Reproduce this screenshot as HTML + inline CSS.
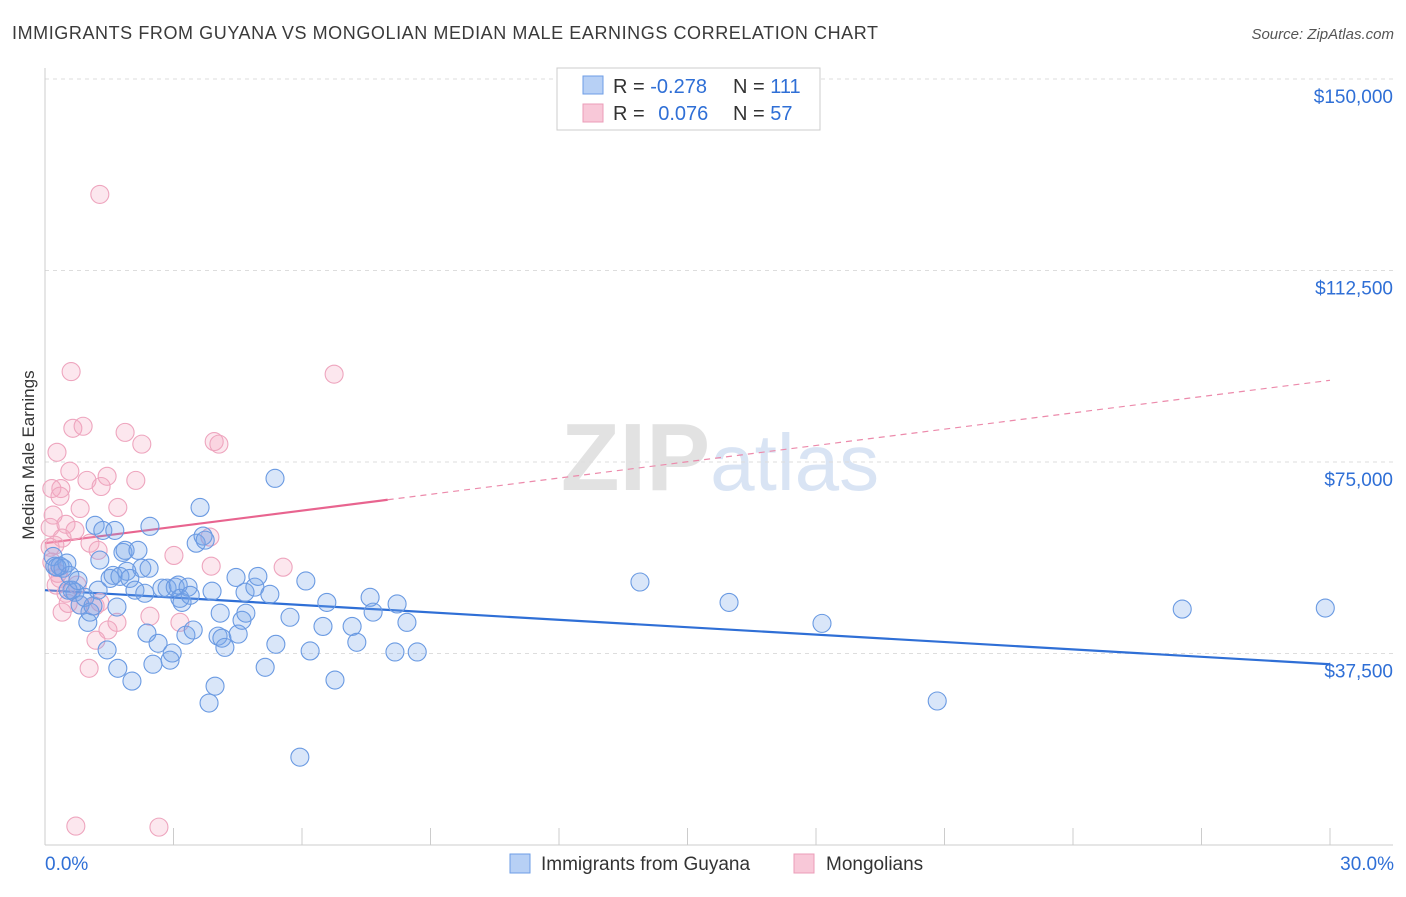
<!DOCTYPE html>
<html><head><meta charset="utf-8">
<style>
body{margin:0;background:#fff;font-family:"Liberation Sans",sans-serif;}
svg text{font-family:"Liberation Sans",sans-serif;}
</style></head>
<body>
<svg id="chart" width="1406" height="892" xmlns="http://www.w3.org/2000/svg">
<text x="12" y="39" font-size="18" fill="#3a3a3a" textLength="866" lengthAdjust="spacing">IMMIGRANTS FROM GUYANA VS MONGOLIAN MEDIAN MALE EARNINGS CORRELATION CHART</text>
<text x="1394" y="39" font-size="15" fill="#555" font-style="italic" text-anchor="end">Source: ZipAtlas.com</text>
<text x="720" y="490" font-size="96" fill="#e6e6e6" text-anchor="middle" font-family="Liberation Serif"><tspan font-weight="bold" fill="#e2e2e2">ZIP</tspan><tspan fill="#d9e4f4" font-family="Liberation Sans" font-size="80">atlas</tspan></text>
<g id="grid"></g>
<g id="axes"></g>
<g id="trends"></g>
<g id="pts"></g>
<text transform="translate(34,455) rotate(-90)" font-size="17" fill="#333" text-anchor="middle">Median Male Earnings</text>
<g>
<rect x="557" y="68" width="263" height="62" fill="#fff" stroke="#ccc"/>
<rect x="583" y="76" width="20" height="18" fill="#b7d0f5" stroke="#6e9de6"/>
<rect x="583" y="104" width="20" height="18" fill="#f8c8d8" stroke="#eb9db8"/>
<text x="613" y="93" font-size="20" fill="#333">R = <tspan fill="#2f6fd6">-0.278</tspan></text>
<text x="733" y="93" font-size="20" fill="#333">N = <tspan fill="#2f6fd6">111</tspan></text>
<text x="613" y="120" font-size="20" fill="#333">R = <tspan fill="#2f6fd6" dx="8">0.076</tspan></text>
<text x="733" y="120" font-size="20" fill="#333">N = <tspan fill="#2f6fd6">57</tspan></text>
</g>
<g>
<rect x="510" y="854" width="20" height="19" fill="#b7d0f5" stroke="#6e9de6"/>
<text x="541" y="870" font-size="19" fill="#333">Immigrants from Guyana</text>
<rect x="794" y="854" width="20" height="19" fill="#f8c8d8" stroke="#eb9db8"/>
<text x="826" y="870" font-size="19" fill="#333">Mongolians</text>
</g>
<text x="45" y="870" font-size="19" fill="#2f6fd6">0.0%</text>
<text x="1394" y="870" font-size="19" fill="#2f6fd6" text-anchor="end">30.0%</text>
</svg>
<script>
const yTicks=[150000,112500,75000,37500];
const yTickLabels=["$150,000","$112,500","$75,000","$37,500"];
const xTicks=[0,3,6,9,12,15,18,21,24,27,30];
const guyanaX=[0.19,0.23,0.35,0.42,0.51,0.58,0.28,0.63,0.70,0.54,0.77,0.82,0.93,1.00,1.05,1.12,1.17,1.24,1.28,1.35,1.45,1.52,1.59,1.63,1.68,1.70,1.75,1.82,1.87,1.91,1.98,2.03,2.10,2.17,2.26,2.33,2.38,2.43,2.45,2.52,2.64,2.73,2.85,2.92,2.97,3.04,3.11,3.15,3.20,3.29,3.34,3.39,3.46,3.53,3.62,3.69,3.74,3.83,3.90,3.97,4.04,4.09,4.13,4.20,4.46,4.51,4.60,4.67,4.69,4.90,4.97,5.14,5.25,5.37,5.39,5.72,5.95,6.09,6.19,6.49,6.58,6.77,7.17,7.28,7.59,7.66,8.17,8.22,8.45,8.69,13.89,15.97,18.14,20.83,26.55,29.89];
const guyanaY=[56.5,54.6,54.6,54.2,55.2,52.8,54.4,49.9,49.5,49.9,51.8,47.0,48.5,43.6,45.6,46.8,62.6,49.9,55.8,61.6,38.2,52.2,52.8,61.6,46.6,34.6,52.6,57.3,57.7,53.6,52.2,32.1,49.9,57.7,54.2,49.3,41.5,54.2,62.4,35.4,39.5,50.3,50.3,36.2,37.6,50.5,50.9,48.3,47.5,41.1,50.5,48.9,42.1,59.1,66.1,60.5,59.7,27.8,49.7,31.1,40.9,45.4,40.5,38.7,52.4,41.3,44.0,49.5,45.4,50.5,52.6,34.8,49.1,71.8,39.3,44.6,17.2,51.7,38.0,42.8,47.5,32.3,42.8,39.7,48.5,45.6,37.8,47.2,43.6,37.8,51.5,47.5,43.4,28.2,46.2,46.4];
const mongolX=[1.28,0.61,6.75,0.65,0.89,1.87,2.26,3.95,4.06,0.28,0.58,0.37,0.98,1.31,1.45,2.12,0.16,0.35,0.82,1.70,0.19,0.12,0.49,0.70,0.40,0.23,1.05,1.24,3.01,3.85,5.56,3.88,0.12,0.16,0.26,0.35,0.75,0.82,1.17,1.28,0.40,1.68,2.45,1.47,3.15,1.19,1.03,0.72,2.66,0.30,0.49,0.54];
const mongolY=[127.4,92.7,92.2,81.6,82.0,80.8,78.5,79.0,78.5,76.9,73.2,69.8,71.4,70.2,72.2,71.4,69.8,68.3,65.9,66.1,64.6,62.2,62.8,61.6,60.1,58.7,59.1,57.7,56.7,60.3,54.4,54.6,58.3,55.4,50.9,52.2,50.9,47.0,46.8,47.5,45.6,43.6,44.8,42.1,43.6,40.1,34.6,3.7,3.5,53.2,49.3,47.3];
const guyanaTrend=[49.9,35.4];
const mongolTrend=[59.1,91.0];
const mongolSolidEnd=8.0;

const NS="http://www.w3.org/2000/svg";
const X=v=>45+v/30*1285;
const Y=v=>845-v/150000*766;
function mk(tag,attrs,parent){const e=document.createElementNS(NS,tag);for(const k in attrs)e.setAttribute(k,attrs[k]);parent.appendChild(e);return e;}
const grid=document.getElementById('grid'),axes=document.getElementById('axes'),trends=document.getElementById('trends'),pts=document.getElementById('pts');
yTicks.forEach((t,i)=>{
  const l=mk('line',{x1:45,x2:1393,y1:Y(t),y2:Y(t),stroke:'#ddd','stroke-dasharray':'4,4'},grid);
  
  
  const tx=mk('text',{x:1393,y:Y(t)+24,'font-size':19,fill:'#2f6fd6','text-anchor':'end'},grid);
  tx.textContent=yTickLabels[i];
  
  
});
const ya=mk('line',{x1:45,x2:45,y1:68,y2:845,stroke:'#ccc'},axes);


const xa=mk('line',{x1:45,x2:1393,y1:845,y2:845,stroke:'#ccc'},axes);


xTicks.forEach(t=>{
  const l=mk('line',{x1:X(t),x2:X(t),y1:828,y2:845,stroke:'#ccc'},axes);
  
  
});
function dots(xs,ys,fill,stroke,name){
  xs.forEach((x,i)=>{
    const c=mk('circle',{cx:X(x),cy:Y(ys[i]*1000),r:9,fill:fill,stroke:stroke,'stroke-width':1.1},pts);
    
    
  });
}
dots(mongolX,mongolY,'rgba(245,170,195,0.28)','#eea5be','mongolian-point');
dots(guyanaX,guyanaY,'rgba(120,165,235,0.28)','#6a9ae2','guyana-point');
const bt=mk('line',{x1:X(0),x2:X(30),y1:Y(guyanaTrend[0]*1000),y2:Y(guyanaTrend[1]*1000),stroke:'#2f6fd6','stroke-width':2.2},trends);


const mAt=x=>mongolTrend[0]+(mongolTrend[1]-mongolTrend[0])*x/30;
const pd=mk('line',{x1:X(mongolSolidEnd),x2:X(30),y1:Y(mAt(mongolSolidEnd)*1000),y2:Y(mAt(30)*1000),stroke:'#ec8aab','stroke-width':1.2,'stroke-dasharray':'6,5'},trends);


const ps=mk('line',{x1:X(0),x2:X(mongolSolidEnd),y1:Y(mAt(0)*1000),y2:Y(mAt(mongolSolidEnd)*1000),stroke:'#e8648f','stroke-width':2.2},trends);


</script>
</body></html>
